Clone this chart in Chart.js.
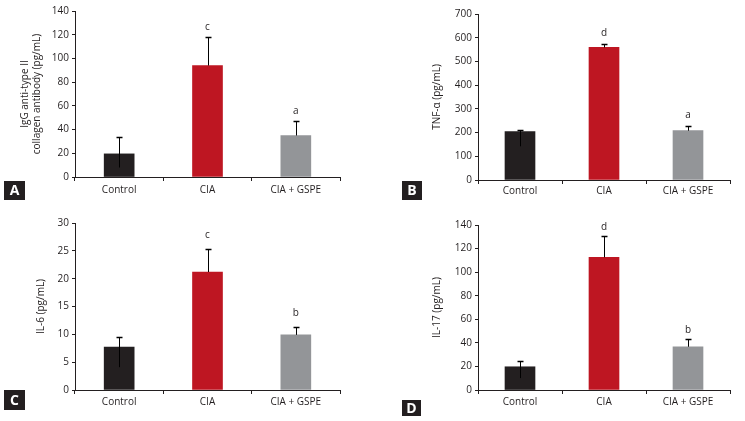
<!DOCTYPE html>
<html>
<head>
<meta charset="utf-8">
<script src="https://cdn.jsdelivr.net/npm/chart.js@4.4.0/dist/chart.umd.min.js"></script>
<style>
  html, body { margin: 0; padding: 0; background: #fff; }
  #wrap { position: relative; width: 745px; height: 421px; overflow: hidden; }
  canvas { position: absolute; }
</style>
</head>
<body>
<div id="wrap">
  <canvas id="chartA" width="372" height="210" style="left:0;top:0"></canvas>
  <canvas id="chartB" width="373" height="210" style="left:372px;top:0"></canvas>
  <canvas id="chartC" width="372" height="211" style="left:0;top:210px"></canvas>
  <canvas id="chartD" width="373" height="211" style="left:372px;top:210px"></canvas>
</div>
<script>
const groups = ['Control', 'CIA', 'CIA + GSPE'];
const barColors = ['#231f20', '#be1622', '#939598'];

// A: IgG anti-type II collagen antibody
const iggValues = [19.5, 94, 35];
const iggErrUp = [14, 24, 12.5];
const iggErrDown = [11.5, 0, 0];
const iggLetters = ['', 'c', 'a'];

// B: TNF-alpha
const tnfValues = [204, 559, 208];
const tnfErrUp = [8, 16, 18];
const tnfErrDown = [62, 0, 0];
const tnfLetters = ['', 'd', 'a'];

// C: IL-6
const il6Values = [7.7, 21.2, 9.9];
const il6ErrUp = [1.9, 4.1, 1.5];
const il6ErrDown = [3.6, 0, 0];
const il6Letters = ['', 'c', 'b'];

// D: IL-17
const il17Values = [19.7, 112.6, 36.7];
const il17ErrUp = [4.5, 17.8, 6.2];
const il17ErrDown = [9.6, 0, 0];
const il17Letters = ['', 'd', 'b'];

const textColor = '#231f20';
Chart.defaults.font.family = "'Open Sans', sans-serif";
Chart.defaults.font.size = 10;
Chart.defaults.color = textColor;

// error bars + significance letters, drawn from the bar elements and y scale
const errorBars = {
  id: 'errorBars',
  afterDatasetsDraw(chart, args, opts) {
    const { ctx } = chart;
    const yScale = chart.scales.y;
    const values = chart.data.datasets[0].data;
    const bars = chart.getDatasetMeta(0).data;
    ctx.save();
    ctx.strokeStyle = '#000';
    ctx.fillStyle = textColor;
    ctx.font = "10px 'Open Sans', sans-serif";
    ctx.textAlign = 'center';
    ctx.textBaseline = 'middle';
    bars.forEach((bar, i) => {
      const x = Math.round(bar.x) + 0.5;
      const top = Math.round(yScale.getPixelForValue(values[i] + opts.up[i]));
      const bottom = yScale.getPixelForValue(values[i] - opts.down[i]);
      ctx.lineWidth = 1;
      ctx.beginPath();
      ctx.moveTo(x, bottom);
      ctx.lineTo(x, top);
      ctx.stroke();
      ctx.lineWidth = 1.5;
      ctx.beginPath();
      ctx.moveTo(x - 3, top + 0.5);
      ctx.lineTo(x + 3, top + 0.5);
      ctx.stroke();
      if (opts.letters[i]) {
        ctx.fillText(opts.letters[i], bar.x, top - opts.gap);
      }
    });
    ctx.restore();
  },
};

// panel letter in a dark box
const panelTag = {
  id: 'panelTag',
  afterDraw(chart, args, opts) {
    const { ctx } = chart;
    ctx.save();
    ctx.fillStyle = '#231f20';
    ctx.fillRect(opts.x, opts.y, opts.w, opts.h);
    ctx.fillStyle = '#fff';
    ctx.font = "bold 14px 'Open Sans', sans-serif";
    ctx.textAlign = 'center';
    ctx.textBaseline = 'middle';
    ctx.fillText(opts.text, opts.x + opts.w / 2, opts.y + opts.h / 2 + 1);
    ctx.restore();
  },
};

function makeChart(id, o) {
  const config = {
    type: 'bar',
    data: {
      labels: groups,
      datasets: [
        {
          data: o.values,
          backgroundColor: barColors,
          barThickness: 30,
        },
      ],
    },
    options: {
      responsive: false,
      animation: false,
      layout: {
        padding: o.padding,
      },
      plugins: {
        legend: { display: false },
        tooltip: { enabled: false },
        errorBars: {
          up: o.errUp,
          down: o.errDown,
          letters: o.letters,
          gap: o.letterGap,
        },
        panelTag: o.tag,
      },
      scales: {
        x: {
          grid: {
            drawOnChartArea: false,
            drawTicks: true,
            tickLength: 4,
            tickColor: '#231f20',
            tickWidth: 1,
          },
          border: { color: '#231f20', width: 1 },
          ticks: { padding: o.labelPad, color: textColor },
          afterFit: (scale) => {
            scale.height = o.xHeight;
          },
        },
        y: {
          min: 0,
          max: o.max,
          grid: {
            drawOnChartArea: false,
            drawTicks: true,
            tickLength: 3,
            tickColor: '#231f20',
            tickWidth: 1,
          },
          border: { color: '#231f20', width: 1 },
          ticks: { stepSize: o.step, padding: 3, color: textColor },
          title: {
            display: true,
            text: o.title,
            color: textColor,
            padding: 0,
            font: { size: 10, lineHeight: 1.2 },
          },
          afterFit: (scale) => {
            scale.width = o.yWidth;
          },
        },
      },
    },
    plugins: [errorBars, panelTag],
  };

  return new Chart(document.getElementById(id), config);
}

makeChart('chartA', {
  values: iggValues, errUp: iggErrUp, errDown: iggErrDown, letters: iggLetters,
  max: 140, step: 20,
  title: ['IgG anti-type II', 'collagen antibody (pg/mL)'],
  padding: { left: 19, top: 11, right: 32, bottom: 0 },
  yWidth: 56, xHeight: 33, letterGap: 10, labelPad: 3,
  tag: { x: 4, y: 181, w: 21, h: 19, text: 'A' },
});

makeChart('chartB', {
  values: tnfValues, errUp: tnfErrUp, errDown: tnfErrDown, letters: tnfLetters,
  max: 700, step: 100,
  title: 'TNF-α (pg/mL)',
  padding: { left: 59, top: 14, right: 15, bottom: 0 },
  yWidth: 47, xHeight: 30, letterGap: 11, labelPad: 1,
  tag: { x: 30, y: 181, w: 20, h: 19, text: 'B' },
});

makeChart('chartC', {
  values: il6Values, errUp: il6ErrUp, errDown: il6ErrDown, letters: il6Letters,
  max: 30, step: 5,
  title: 'IL-6 (pg/mL)',
  padding: { left: 35, top: 13, right: 32, bottom: 0 },
  yWidth: 40, xHeight: 31, letterGap: 14, labelPad: 2,
  tag: { x: 4, y: 180, w: 21, h: 20, text: 'C' },
});

makeChart('chartD', {
  values: il17Values, errUp: il17ErrUp, errDown: il17ErrDown, letters: il17Letters,
  max: 140, step: 20,
  title: 'IL-17 (pg/mL)',
  padding: { left: 59, top: 15, right: 15, bottom: 0 },
  yWidth: 47, xHeight: 31, letterGap: 9, labelPad: 2,
  tag: { x: 30, y: 190, w: 19, h: 16, text: 'D' },
});
</script>
</body>
</html>
